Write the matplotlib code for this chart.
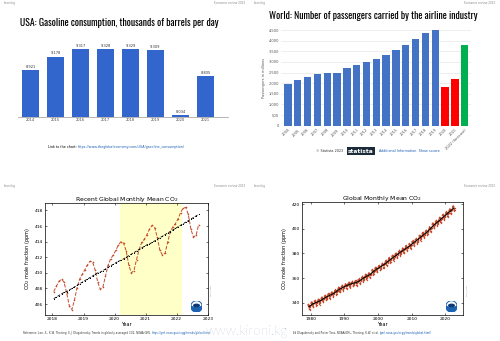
import matplotlib
matplotlib.use('Agg')
import matplotlib.pyplot as plt
from matplotlib.patches import Circle, Wedge, Ellipse
import numpy as np

W, H = 500, 341

# USA: gasoline consumption, thousand barrels per day
gas_years = ['2014', '2015', '2016', '2017', '2018', '2019', '2020', '2021']
gas_values = [8921, 9178, 9317, 9328, 9329, 9309, 8034, 8805]

# World: airline passengers, millions
air_labels = ['2004', '2005', '2006', '2007', '2008', '2009', '2010', '2011',
              '2012', '2013', '2014', '2015', '2016', '2017', '2018', '2019',
              '2020', '2021', '2022 (forecast)']
air_values = [1970, 2130, 2270, 2450, 2490, 2480, 2700, 2870, 2990, 3140,
              3330, 3560, 3800, 4070, 4380, 4540, 1810, 2200, 3780]
air_kind = ['pre'] * 16 + ['covid'] * 2 + ['forecast']

# recent global monthly mean CO2, Jan 2018 .. Sep 2022 (ppm)
recent_co2 = [407.6, 408.3, 408.9, 409.2, 408.8, 407.4, 405.8, 405.3, 406.5, 408.1, 409.2, 409.8,
              410.4, 411.0, 411.5, 411.4, 410.4, 408.8, 407.9, 408.2, 409.6, 411.0, 411.8, 412.3,
              412.9, 413.6, 414.0, 413.8, 412.8, 411.0, 410.0, 410.3, 411.7, 413.0, 413.9, 414.3,
              414.9, 415.6, 416.1, 415.8, 414.6, 412.9, 412.3, 412.5, 413.9, 415.2, 415.9, 416.3,
              416.9, 417.7, 418.3, 418.4, 417.5, 415.6, 414.6, 414.8, 416.2]
recent_trend = [406.7, 406.9, 407.1, 407.3, 407.5, 407.6, 407.8, 408.0, 408.2, 408.4, 408.6, 408.8,
                409.0, 409.2, 409.4, 409.6, 409.8, 410.0, 410.1, 410.3, 410.5, 410.7, 410.9, 411.1,
                411.3, 411.5, 411.6, 411.8, 412.0, 412.2, 412.4, 412.6, 412.8, 413.0, 413.2, 413.4,
                413.6, 413.7, 413.9, 414.1, 414.3, 414.5, 414.7, 414.9, 415.1, 415.3, 415.5, 415.7,
                415.9, 416.1, 416.3, 416.5, 416.7, 416.9, 417.1, 417.3, 417.5]

# global annual mean CO2 1979..2022 and the average seasonal cycle (ppm)
co2_years = list(range(1979, 2023))
co2_annual = [336.8, 338.9, 340.1, 341.1, 342.8, 344.4, 345.8, 347.1, 348.9, 350.9,
              352.4, 353.7, 354.9, 355.8, 356.3, 357.8, 359.7, 361.4, 362.6, 365.1,
              367.2, 368.8, 370.6, 372.6, 374.9, 376.8, 378.8, 380.8, 382.7, 384.6,
              386.3, 388.7, 390.7, 393.0, 395.3, 397.3, 400.0, 403.0, 405.2, 407.6,
              410.0, 412.3, 414.6, 417.0]
season = [0.9, 1.4, 1.8, 1.9, 1.2, -0.3, -2.0, -2.6, -1.6, -0.2, 0.6, 1.0]


def box(x0, y0, x1, y1):
    return [x0 / W, 1 - y1 / H, (x1 - x0) / W, (y1 - y0) / H]


def ftext(x, y, s, **kw):
    return fig.text(x / W, 1 - y / H, s, **kw)


def after(prev, s, **kw):
    # put a text right after another one on the same line
    return ax1.annotate(s, xy=(1, 0.5), xycoords=prev, xytext=(0.8, 0),
                        textcoords='offset points', va='center',
                        annotation_clip=False, **kw)


def noaa_logo(cx, cy, r):
    lax = fig.add_axes(box(cx - r, cy - r, cx + r, cy + r))
    lax.set_xlim(-1, 1)
    lax.set_ylim(-1, 1)
    lax.set_aspect('equal')
    lax.axis('off')
    lax.add_patch(Circle((0, 0), 1, color='#1b62b0'))
    lax.add_patch(Wedge((0, 0), 0.82, 15, 165, color='white'))
    lax.add_patch(Ellipse((0, 0.18), 1.0, 0.45, color='#0b3a75'))


fig = plt.figure(figsize=(W / 100, H / 100), dpi=100)
fig.patch.set_facecolor('white')

head = dict(fontsize=2.0, color='#888888', va='center')
for x0 in (0, 250):
    for y0 in (3, 186):
        ftext(x0 + 4, y0, 'kironi.kg', ha='left', **head)
        ftext(x0 + 245, y0, 'Economic review 2023', ha='right', **head)

narrow = ['Oswald', 'Archivo Narrow', 'DejaVu Sans']

# ---- USA gasoline
ftext(119, 22.5, 'USA: Gasoline consumption, thousands of barrels per day',
      ha='center', va='center', fontsize=7.0, fontweight='bold', family=narrow)
ax1 = fig.add_axes(box(18, 40, 228, 117))
bars = ax1.bar(range(len(gas_values)), gas_values, width=0.69, color='#3366cc')
ax1.bar_label(bars, labels=[f'{v:,}' for v in gas_values], padding=0.8,
              fontsize=2.6, color='#333333')
ax1.set_ylim(8000, 9500)
ax1.set_xlim(-0.5, 7.9)
ax1.set_yticks([])
ax1.set_xticks(range(len(gas_years)), gas_years, fontsize=2.6, color='#444444')
ax1.tick_params(length=0, pad=1)
for s in ('top', 'right', 'left'):
    ax1.spines[s].set_visible(False)
ax1.spines['bottom'].set_color('#999999')
ax1.spines['bottom'].set_linewidth(0.5)
lk = ftext(48, 147, 'Link to the chart:', fontsize=2.4, va='center')
after(lk, 'https://www.theglobaleconomy.com/USA/gasoline_consumption/',
      fontsize=2.4, color='#1a5fb4')

# ---- airline passengers
ftext(373, 16, 'World: Number of passengers carried by the airline industry',
      ha='center', va='center', fontsize=7.0, family=narrow)
kind_color = {'pre': '#4472c4', 'covid': '#ff0000', 'forecast': '#00b050'}
ax2 = fig.add_axes(box(281, 30, 471, 125.7))
ax2.bar(range(len(air_values)), air_values, width=0.75,
        color=[kind_color[k] for k in air_kind])
ax2.set_ylim(0, 4500)
ax2.set_xlim(-0.71, 18.64)
yt = list(range(0, 4501, 500))
ax2.set_yticks(yt, [f'{v:,}' for v in yt], fontsize=2.6, color='#555555')
ax2.set_xticks(range(len(air_labels)), air_labels, rotation=45, ha='right',
               rotation_mode='anchor', fontsize=2.6, color='#555555')
ax2.tick_params(length=0, pad=1.5)
ax2.grid(axis='y', color='#e2e2e2', lw=0.4)
ax2.set_axisbelow(True)
for s in ax2.spines.values():
    s.set_visible(False)
ax2.set_ylabel('Passengers in millions', fontsize=2.6, color='#555555', labelpad=2)
ftext(330, 151, '© Statista 2023', fontsize=2.4, ha='center', va='center', color='#333333')
ftext(361, 151, 'statista', fontsize=4.2, ha='center', va='center', color='white',
      fontweight='bold', bbox=dict(boxstyle='square,pad=0.25', fc='#1c2b39', ec='none'))
ftext(379, 151, 'Additional Information  Show source', fontsize=2.4, va='center',
      color='#1a5fb4')

# ---- recent global monthly CO2
ax3 = fig.add_axes(box(45, 202.7, 207.7, 315))
t_recent = 2018 + (np.arange(len(recent_co2)) + 0.5) / 12
ax3.axvspan(2020.18, 2022.16, color='#ffffc8', lw=0)
ax3.plot(t_recent, recent_co2, color='#c44a2a', ls='--', lw=0.7,
         marker='D', ms=1.0, mew=0)
ax3.plot(t_recent, recent_trend, color='black', ls='--', lw=0.6,
         marker='s', ms=0.7, mew=0)
ax3.set_xlim(2017.76, 2023.0)
ax3.set_ylim(404.6, 419.0)
ax3.set_xticks(range(2018, 2024))
ax3.set_yticks(range(406, 419, 2))
ax3.set_title('Recent Global Monthly Mean CO$_2$', fontsize=4.4, pad=1.5)
ax3.set_xlabel('Year', fontsize=3.6, labelpad=1)
ax3.set_ylabel('CO$_2$ mole fraction (ppm)', fontsize=3.6, labelpad=2)

# ---- full global monthly CO2
ax4 = fig.add_axes(box(301.7, 201.7, 463.3, 315))
t_all = np.array([y + (m + 0.5) / 12 for y in co2_years for m in range(12)])
co2_monthly = np.array([a + s for a in co2_annual for s in season])
keep = t_all < 2022.8
ax4.plot(t_all[keep], co2_monthly[keep], color='#c44a2a', ls='--', lw=0.6,
         marker='D', ms=0.9, mew=0)
ax4.plot(np.array(co2_years) + 0.5, co2_annual, color='black', lw=0.8)
ax4.set_xlim(1977.3, 2025.3)
ax4.set_ylim(330, 422.1)
ax4.set_xticks(range(1980, 2021, 10))
ax4.set_yticks(range(340, 421, 20))
ax4.set_title('Global Monthly Mean CO$_2$', fontsize=4.4, pad=1.5)
ax4.set_xlabel('Year', fontsize=3.6, labelpad=1)
ax4.set_ylabel('CO$_2$ mole fraction (ppm)', fontsize=3.6, labelpad=2)

for ax in (ax3, ax4):
    ax.tick_params(direction='in', top=True, right=True, labelsize=3.2,
                   length=1.5, width=0.4, pad=1.5)
    for s in ax.spines.values():
        s.set_linewidth(0.5)

noaa_logo(196.5, 306.5, 5.5)
noaa_logo(451.5, 306.5, 5.5)
ftext(210, 290, 'NOAA/GML', fontsize=1.6, rotation=90, color='#999999', va='center')
ftext(466, 290, 'NOAA/GML', fontsize=1.6, rotation=90, color='#999999', va='center')

foot = dict(fontsize=1.9)
f1 = ftext(23, 333, 'Reference: Lan, X., K.W. Thoning, E.J. Dlugokencky: Trends in globally-averaged CO2, NOAA GML',
           color='#333333', va='center', **foot)
after(f1, 'https://gml.noaa.gov/ccgg/trends/global.html', color='#1a5fb4', **foot)
f2 = ftext(293, 333, 'Ed Dlugokencky and Pieter Tans, NOAA/GML, Thoning, K.W. et al.',
           color='#333333', va='center', **foot)
after(f2, '(gml.noaa.gov/ccgg/trends/global.html)', color='#1a5fb4', **foot)

ftext(247, 332, 'www.kironi.kg', ha='center', va='center', fontsize=10,
      color='#8e99ae', family=['Lato', 'DejaVu Sans'], fontweight='light', alpha=0.85)

fig.savefig('out.png', dpi=100, facecolor='white')
